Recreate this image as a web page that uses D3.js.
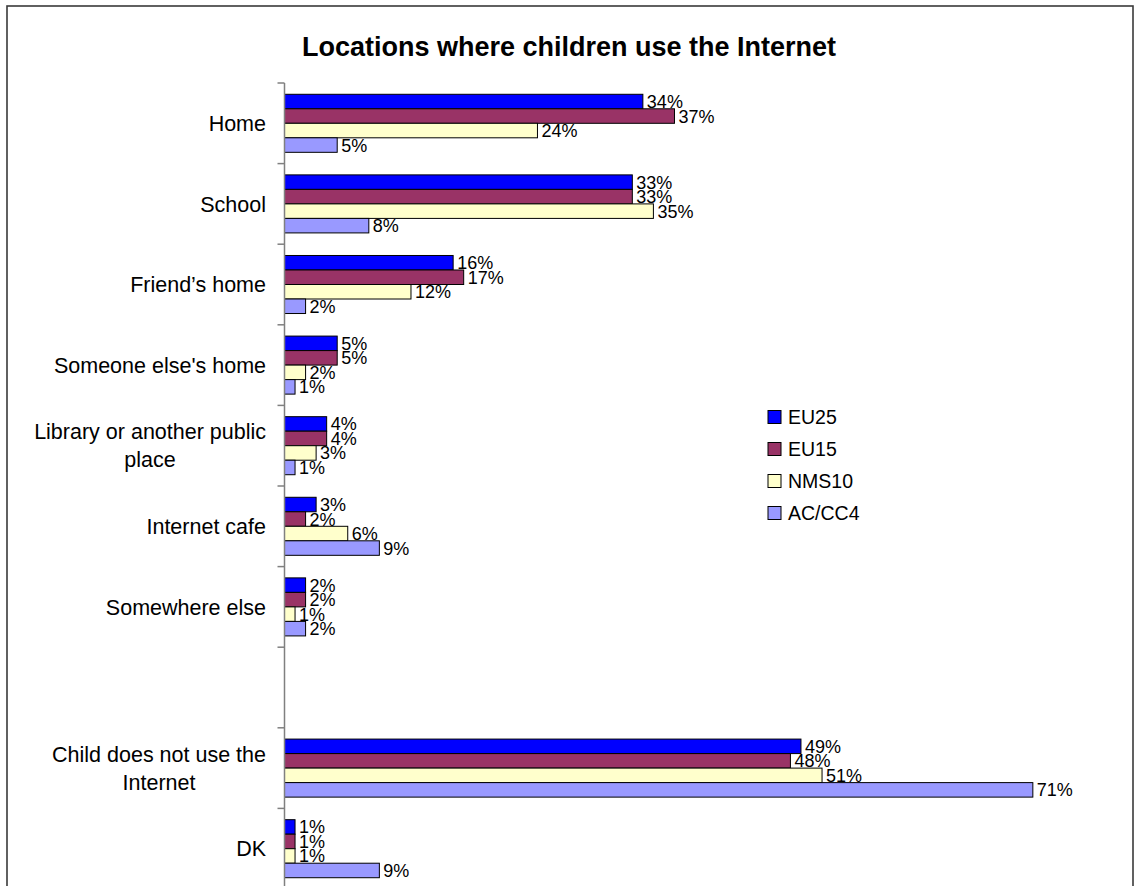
<!DOCTYPE html>
<html>
<head>
<meta charset="utf-8">
<script src="https://cdnjs.cloudflare.com/ajax/libs/d3/7.8.5/d3.min.js"></script>
<style>
  html, body { margin: 0; padding: 0; background: #fff; }
  svg { display: block; font-family: "Liberation Sans", Arial, sans-serif; }
</style>
</head>
<body>
<svg id="chart" width="1138" height="886"></svg>
<script>
// Chart data
const title = "Locations where children use the Internet";
const categories = [
  "Home",
  "School",
  "Friend’s home",
  "Someone else's home",
  "Library or another public place",
  "Internet cafe",
  "Somewhere else",
  "",
  "Child does not use the Internet",
  "DK"
];
const seriesNames = ["EU25", "EU15", "NMS10", "AC/CC4"];
const seriesColors = ["#0000FF", "#993366", "#FFFFCC", "#9999FF"];
const eu25  = [34, 33, 16, 5, 4, 3, 2, null, 49, 1];
const eu15  = [37, 33, 17, 5, 4, 2, 2, null, 48, 1];
const nms10 = [24, 35, 12, 2, 3, 6, 1, null, 51, 1];
const accc4 = [5, 8, 2, 1, 1, 9, 2, null, 71, 9];
const seriesValues = [eu25, eu15, nms10, accc4];

const svg = d3.select("#chart");

// Outer frame
svg.append("rect")
  .attr("x", 7).attr("y", 6)
  .attr("width", 1126).attr("height", 900)
  .attr("fill", "#fff")
  .attr("stroke", "#3a3a3a")
  .attr("stroke-width", 1.6);

// Title
svg.append("text")
  .attr("x", 569).attr("y", 56)
  .attr("text-anchor", "middle")
  .attr("font-size", 27)
  .attr("font-weight", "bold")
  .attr("fill", "#000")
  .text(title);

// Scales
const x0 = 284.5;
const x = d3.scaleLinear().domain([0, 80]).range([x0, 1127.7]);
const y = d3.scaleBand().domain(d3.range(categories.length)).range([83, 83 + 80.6 * categories.length]);
const barH = y.bandwidth() * 0.18;
const groupOffset = (y.bandwidth() - barH * seriesNames.length) / 2;

// Bars and value labels
const rows = [];
categories.forEach((c, i) => {
  seriesValues.forEach((vals, s) => {
    if (vals[i] != null) rows.push({ cat: i, s, v: vals[i] });
  });
});

const g = svg.append("g");
g.selectAll("rect.bar")
  .data(rows)
  .join("rect")
  .attr("class", "bar")
  .attr("x", x(0))
  .attr("y", d => y(d.cat) + groupOffset + d.s * barH)
  .attr("width", d => x(d.v) - x(0))
  .attr("height", barH)
  .attr("fill", d => seriesColors[d.s])
  .attr("stroke", "#000")
  .attr("stroke-width", 1);

g.selectAll("text.val")
  .data(rows)
  .join("text")
  .attr("class", "val")
  .attr("x", d => x(d.v) + 4)
  .attr("y", d => y(d.cat) + groupOffset + d.s * barH + barH / 2)
  .attr("dy", "0.36em")
  .attr("font-size", 18)
  .attr("fill", "#000")
  .text(d => d.v + "%");

// Category axis line and ticks between categories
const axisG = svg.append("g");
axisG.append("line")
  .attr("x1", x0).attr("x2", x0)
  .attr("y1", y.range()[0]).attr("y2", y.range()[1])
  .attr("stroke", "#808080").attr("stroke-width", 1.5);
const tickPos = categories.map((c, i) => y(i)).concat([y.range()[1]]);
axisG.selectAll("line.tick")
  .data(tickPos)
  .join("line")
  .attr("class", "tick")
  .attr("x1", x0 - 7).attr("x2", x0)
  .attr("y1", d => d).attr("y2", d => d)
  .attr("stroke", "#808080").attr("stroke-width", 1.5);

// Category labels, wrapped and right-aligned as a block
const labelRight = 266;
const lineH = 28;
const maxW = 250;
categories.forEach((c, i) => {
  if (!c) return;
  const t = svg.append("text")
    .attr("font-size", 21.5)
    .attr("fill", "#000")
    .attr("text-anchor", "middle");
  // greedy word wrap
  const words = c.split(" ");
  const lines = [];
  let cur = [];
  const probe = svg.append("text").attr("font-size", 21.5);
  words.forEach(w => {
    const test = cur.concat([w]).join(" ");
    probe.text(test);
    if (probe.node().getComputedTextLength() > maxW && cur.length) {
      lines.push(cur.join(" "));
      cur = [w];
    } else {
      cur.push(w);
    }
  });
  lines.push(cur.join(" "));
  const widths = lines.map(l => { probe.text(l); return probe.node().getComputedTextLength(); });
  probe.remove();
  const blockW = d3.max(widths);
  const cx = labelRight - blockW / 2;
  const cy = y(i) + y.bandwidth() / 2;
  const startY = cy - (lines.length - 1) * lineH / 2;
  lines.forEach((l, k) => {
    t.append("tspan")
      .attr("x", cx)
      .attr("y", startY + k * lineH)
      .attr("dy", "0.36em")
      .text(l);
  });
});

// Legend
const legend = svg.append("g");
seriesNames.forEach((name, s) => {
  const ly = 417 + s * 32;
  legend.append("rect")
    .attr("x", 768).attr("y", ly - 6.5)
    .attr("width", 13).attr("height", 13)
    .attr("fill", seriesColors[s])
    .attr("stroke", "#000").attr("stroke-width", 1);
  legend.append("text")
    .attr("x", 788).attr("y", ly)
    .attr("dy", "0.36em")
    .attr("font-size", 19.5)
    .attr("fill", "#000")
    .text(name);
});
</script>
</body>
</html>
